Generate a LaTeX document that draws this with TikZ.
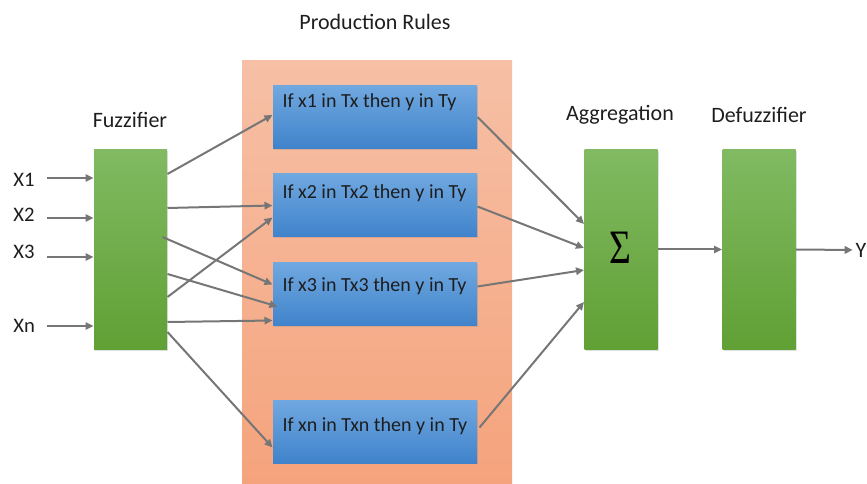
\documentclass[tikz,border=0pt]{standalone}
\usepackage{fontspec}
\setmainfont{Carlito}
\newfontfamily\sigmafont{Liberation Serif}
\usetikzlibrary{arrows.meta,calc,shadows}

\definecolor{greentop}{RGB}{129,186,98}
\definecolor{greenbot}{RGB}{96,160,52}
\definecolor{bluetop}{RGB}{112,168,224}
\definecolor{bluebot}{RGB}{64,131,203}
\definecolor{salmontop}{RGB}{246,192,166}
\definecolor{salmonbot}{RGB}{245,163,124}
\definecolor{arrgray}{RGB}{118,118,118}
\definecolor{txt}{RGB}{30,30,30}

\tikzset{every picture/.style={line width=0.75pt}}
\tikzset{
  greenbox/.style={rectangle, minimum width=54.75pt, minimum height=150pt, inner sep=0pt,
    top color=greentop, bottom color=greenbot,
    drop shadow={opacity=0.25, shadow xshift=0.8pt, shadow yshift=-0.8pt}},
  rulebox/.style={rectangle, minimum width=153pt, minimum height=47.25pt, inner sep=0pt,
    top color=bluetop, bottom color=bluebot,
    drop shadow={opacity=0.25, shadow xshift=0.8pt, shadow yshift=-0.8pt}},
  rulesbg/.style={rectangle, minimum width=202.5pt, minimum height=317.25pt, inner sep=0pt,
    top color=salmontop, bottom color=salmonbot},
  lbl/.style={font=\fontsize{16.5}{19}\selectfont, text=txt},
  inlbl/.style={font=\fontsize{15.5}{18}\selectfont, text=txt, anchor=west, inner sep=0pt},
  ruletext/.style={font=\fontsize{15}{18}\selectfont, text=txt, anchor=west, inner sep=0pt},
  arr/.style={draw=arrgray, line width=1.5pt, -{Triangle[length=6pt,width=5.5pt]}},
}

\begin{document}
\begin{tikzpicture}[x=0.75pt,y=0.75pt,yscale=-1,xscale=1]
	\useasboundingbox (0,0) rectangle (867,484);

	%Shape: Rectangle [production rules]
	\node[rulesbg] (rules) at (377,272.5) {};
	% Text Node
	\node[lbl] (rulestitle) at (375,22) {Production Rules};

	%Shape: Rectangle [fuzzifier, aggregation, defuzzifier]
	\node[greenbox] (fuzz) at (130.5,249.5) {};
	\node[greenbox] (agg) at (621,249.5) {};
	\node[greenbox] (defuzz) at (759,249.5) {};
	% Text Node
	\node[text=black, inner sep=0pt, font=\sigmafont\fontsize{36}{36}\selectfont] (sigma) at (620,248) {\scalebox{0.78}[1]{Σ}};
	% Text Node
	\node[lbl] (fuzztitle) at (130,120) {Fuzzifier};
	% Text Node
	\node[lbl] (aggtitle) at (620,115) {Aggregation};
	% Text Node
	\node[lbl] (defuzztitle) at (759,115) {Defuzzifier};

	%Shape: Rectangle [rules]
	\node[rulebox] (r1) at (375,117) {};
	\node[rulebox] (r2) at (375,205.5) {};
	\node[rulebox] (r3) at (375,294.5) {};
	\node[rulebox] (r4) at (375,431.5) {};
	% Text Node
	\node[ruletext] (t1) at (282,102) {If x1 in Tx then y in Ty};
	\node[ruletext] (t2) at (282,193) {If x2 in Tx2 then y in Ty};
	\node[ruletext] (t3) at (282,286) {If x3 in Tx3 then y in Ty};
	\node[ruletext] (t4) at (282,426) {If xn in Txn then y in Ty};

	% Text Node [inputs]
	\node[inlbl] (x1) at (13,180) {X1};
	\node[inlbl] (x2) at (13,215) {X2};
	\node[inlbl] (x3) at (13,252) {X3};
	\node[inlbl] (xn) at (13,326) {Xn};
	\coordinate (in1) at ($(x1.east)+(12,-2)$);
	\coordinate (in2) at ($(x2.east)+(12,3)$);
	\coordinate (in3) at ($(x3.east)+(12,5)$);
	\coordinate (inn) at ($(xn.east)+(11,0)$);
	%Straight Lines [inputs]
	\draw[arr] (in1) -- (in1 -| fuzz.west);
	\draw[arr] (in2) -- (in2 -| fuzz.west);
	\draw[arr] (in3) -- (in3 -| fuzz.west);
	\draw[arr] (inn) -- (inn -| fuzz.west);

	%Straight Lines [fuzzifier to rules]
	\draw[arr] ($(fuzz.north east)+(0,25)$) -- ($(r1.north west)+(0,30)$);
	\draw[arr] ($(fuzz.north east)+(0,59)$) -- ($(r2.north west)+(0,32)$);
	\draw[arr] ($(fuzz.north east)+(-5,88)$) -- ($(r3.north west)+(0,22)$);
	\draw[arr] ($(fuzz.north east)+(0,125)$) -- ($(r3.north west)+(5,44)$);
	\draw[arr] ($(fuzz.north east)+(0,148)$) -- ($(r2.north west)+(0,44)$);
	\draw[arr] ($(fuzz.north east)+(0,173)$) -- ($(r3.north west)+(0,58)$);
	\draw[arr] ($(fuzz.north east)+(0,183)$) -- ($(r4.north west)+(0,48)$);

	%Straight Lines [rules to aggregation]
	\draw[arr] ($(r1.north east)+(0,32)$) -- ($(agg.north west)+(0,75)$);
	\draw[arr] ($(r2.north east)+(0,33)$) -- ($(agg.north west)+(0,99)$);
	\draw[arr] ($(r3.north east)+(0,24)$) -- ($(agg.north west)+(0,121)$);
	\draw[arr] ($(r4.north east)+(2,28)$) -- ($(agg.north west)+(0,153)$);

	% Text Node
	\node[lbl] (yout) at (861,250) {Y};
	%Straight Lines [output]
	\draw[arr] (agg.east) -- (defuzz.west);
	\draw[arr] (defuzz.east) -- ([xshift=1.5pt]yout.west);

\end{tikzpicture}
\end{document}
